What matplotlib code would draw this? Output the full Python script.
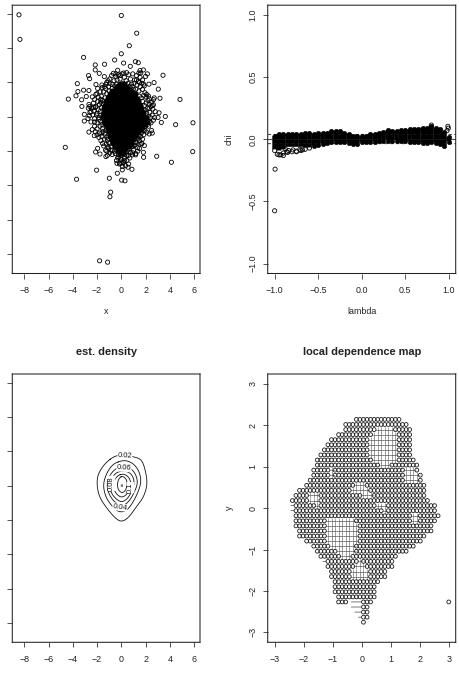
import matplotlib
matplotlib.use("Agg")
import matplotlib.pyplot as plt
import numpy as np

plt.rcParams['font.family'] = ['Liberation Sans', 'DejaVu Sans']
plt.rcParams['path.snap'] = False
W, H = 459, 674
INK = '#1a1a1a'

# ---- panel 1: scatter (x, y) ----
outer_x = [-8.44,-8.36,0.0,1.27,.66,0,-3.11,-.55,.19,1.16,1.40,.74,-2.15,-1.38,-2.15,-1.82,-2.70,-2.61,-1.40,-.66,-.30,.44,1.54,1.82,2.15,3.44,2.70,2.28,-3.63,-2.09,3.05,-3.11,-3.58,-2.67,-3.74,-4.37,-3.27,-2.89,-2.39,-2.01,-1.57,3.19,4.84,2.72,-3.25,-2.67,-2.72,-2.15,-3.05,-2.59,-2.75,-3.05,-2.64,3.11,3.63,3.03,3.30,4.48,5.91,5.89,4.13,2.92,1.84,1.82,1.90,1.68,1.18,.91,-4.62,-2.67,-2.23,-2.15,-1.68,-1.95,-2.12,-1.76,-1.27,-2.04,-3.69,-.99,-.33,.08,.88,.55,-.36,.17,.03,.30,-.88,-.94,-1.79,-1.13]
outer_y = [5.94,4.51,5.90,4.87,4.14,3.67,3.46,3.31,3.13,3.21,3.15,2.94,3.02,3.06,2.73,2.53,2.40,2.22,2.34,2.53,2.71,2.57,2.69,2.73,2.50,2.42,1.99,1.90,1.93,1.88,1.61,1.55,1.47,1.53,1.22,1.03,.99,1.18,1.16,1.35,1.70,1.08,1.01,1.10,.60,.72,.50,.54,.14,.25,-.10,-.25,.06,.23,.02,-.04,-.33,-.46,-.35,-2.03,-2.65,-2.30,-2.36,-2.07,-1.68,-1.57,-2.22,-2.22,-1.78,-.89,-1.10,-.87,-1.39,-1.84,-2.05,-2.17,-2.32,-3.11,-3.64,-3.58,-3.29,-3.09,-3.06,-2.94,-2.71,-2.65,-3.69,-3.73,-4.39,-4.66,-8.39,-8.47]
halo_x = [-1.2,-.95,-.8,-.6,-.45,-.25,-.1,.05,.25,.4,.6,.75,.95,1.1,1.25,1.4,1.55,1.75,1.85,2.0,1.3,1.05,.85,.55,.15,-.15,-.4,-.75,-1.05,-1.3,-1.45,-1.6,-1.75,-1.95,-2.1,-1.9,-1.65,1.55,1.75,1.95,2.05,1.85,2.3,2.5,2.65,2.45,2.6,2.3,2.05,2.15,2.8,2.35,2.55,2.1,2.4,2.65,2.75,2.45,2.25,2.5,2.55,2.3,2.1,1.95,1.85,1.6,1.75,1.5,1.3,1.55,1.35,1.15,1.0,.85,1.2,.75,.55,.3,.05,-.25,-.5,-.75,-.95,-1.15,-1.05,-1.3,-1.25,-1.05,-1.4,-1.2,-1.6,-1.5,-1.8,-2.0,-1.75,-2.2,-2.0,-2.4,-1.85,-2.2,-2.5,-2.35,-2.05,-2.5,-2.25,-1.9,-2.1,-1.8,-2.3,0,.2,.45,-.1,.35,.1,-.15,.6,-.4,.25,-.3]
halo_y = [2.0,2.2,2.4,2.1,2.35,2.45,2.2,2.5,2.3,2.1,2.45,2.2,2.5,2.15,2.4,2.05,2.3,2.15,1.9,2.35,1.85,1.95,1.9,1.95,1.95,1.85,1.9,1.9,1.75,1.65,1.45,1.85,1.45,1.65,1.3,1.15,1.2,1.75,1.6,1.4,1.15,1.25,1.05,.85,1.0,.6,.45,.75,.8,.5,.3,.25,.1,.2,-.05,-.2,-.05,-.35,-.55,-.8,-.95,-1.0,-.9,-.8,-1.05,-1.15,-1.3,-1.4,-1.35,-1.6,-1.8,-1.65,-1.95,-1.75,-2.15,-2.1,-1.95,-2.2,-2.25,-2.2,-2.15,-2.2,-2.1,-2.25,-1.85,-1.95,-1.6,-1.5,-1.3,-1.2,-1.15,-.85,-.95,-.7,-.55,-.55,-.35,-.75,-.15,-.1,-.3,.1,.1,.3,.35,.4,.6,.7,.8,-2.5,-2.65,-2.55,-2.7,-2.85,-2.9,-2.75,-2.75,-2.55,-2.4,-2.4]
rim_x = [-1.0,-1.2,-1.35,-1.55,-1.5,-1.65,-1.75,-1.7,-1.85,-1.7,-1.6,-1.55,-1.35,-1.25,-1.1,-1.15,-.95,-.85,-.75,-.55,-.35,-.2,1.0,1.2,1.45,1.5,1.65,1.75,1.9,1.95,2.05,2.2,2.3,2.15,2.0,1.9,1.8,1.65,1.45,1.4,1.2,1.05,.95,.7,.6,.4,.2,.05,-.75,-.55,-.35,-.15,.1,.3,.45,.7,.9,-1.7,-1.95,-2.2,-1.7,-2.0,-2.2,-2.3,-2.6,-2.45,-1.6,-1.85,-2.0,-1.45,-1.55,-1.2,-1.1,-.85,1.7,1.5,1.35,.95,.7,.45,-.05,.05,.25,2.65,2.55,2.3,2.2,2.1,2.25,1.9,1.7,1.5,1.25,1.45,1.6,.2,-.1,-.35,-.95,-1.1,-1.4,-1.25,-.45]
rim_y = [1.5,1.35,1.1,.95,.75,.55,.3,.1,-.05,-.25,-.45,-.7,-.95,-.8,-1.1,-1.35,-1.55,-1.75,-1.95,-2.0,-2.0,-2.35,1.6,1.6,1.5,1.2,1.1,.9,.65,.4,.05,-.1,-.3,-.45,-.55,-.6,-.8,-.95,-1.1,-1.25,-1.5,-1.65,-1.7,-1.85,-2.25,-2.05,-2.1,-2.05,1.65,1.8,1.75,1.7,1.8,1.75,1.8,1.75,1.75,1.0,.9,1.0,.85,.2,-.3,.55,.6,.5,-.95,-1.2,-1.05,-1.7,-1.55,-2.0,-1.75,-1.95,-1.55,-1.85,-2.0,-2.1,-2.4,-2.25,-2.4,-2.7,-2.55,.7,.65,.5,.95,1.3,1.2,1.8,1.95,2.0,2.15,2.55,2.55,2.55,2.4,2.15,1.95,2.1,1.75,1.9,2.5]
core_y = [1.9,1.7,1.5,1.3,1.1,.9,.7,.5,.3,.1,-.1,-.3,-.5,-.7,-.9,-1.1,-1.3,-1.5,-1.7,-1.9,-2.1]
core_x = [
 [-.1,.25],
 [-.4,-.1,.2,.5],
 [-.75,-.45,-.15,.15,.45,.8],
 [-.95,-.65,-.35,-.05,.25,.55,.85,1.1],
 [-1.1,-.8,-.5,-.2,.1,.4,.7,1.0,1.25],
 [-1.25,-.95,-.65,-.35,-.05,.25,.55,.85,1.15,1.4],
 [-1.35,-1.05,-.75,-.45,-.15,.15,.45,.75,1.05,1.35,1.55],
 [-1.4,-1.1,-.8,-.5,-.2,.1,.4,.7,1.0,1.3,1.6],
 [-1.45,-1.15,-.85,-.55,-.25,.05,.35,.65,.95,1.25,1.55,1.75],
 [-1.5,-1.2,-.9,-.6,-.3,.0,.3,.6,.9,1.2,1.5,1.8],
 [-1.5,-1.2,-.9,-.6,-.3,.0,.3,.6,.9,1.2,1.5,1.8,2.0],
 [-1.4,-1.1,-.8,-.5,-.2,.1,.4,.7,1.0,1.3,1.6,1.9,2.1],
 [-1.25,-.95,-.65,-.35,-.05,.25,.55,.85,1.15,1.45,1.75],
 [-1.1,-.8,-.5,-.2,.1,.4,.7,1.0,1.3,1.6],
 [-1.0,-.7,-.4,-.1,.2,.5,.8,1.1,1.4],
 [-.9,-.6,-.3,.0,.3,.6,.9,1.15],
 [-.75,-.45,-.15,.15,.45,.75,1.0],
 [-.65,-.35,-.05,.25,.55,.8],
 [-.5,-.2,.1,.4,.6],
 [-.3,.0,.3],
 [-.1,.15],
]

# ---- panel 2: chi plot ----
lam = [-1,-.95,-.9,-.85,-.8,-.75,-.7,-.65,-.6,-.55,-.5,-.45,-.4,-.35,-.3,-.25,-.2,-.15,-.1,-.05,0,.05,.1,.15,.2,.25,.3,.35,.4,.45,.5,.55,.6,.65,.7,.75,.8,.85,.9,.95,1]
chi_upper = [.03,.045,.04,.04,.045,.045,.045,.05,.05,.045,.05,.05,.055,.065,.07,.065,.05,.045,.03,.025,.025,.03,.04,.045,.05,.06,.075,.07,.07,.075,.075,.08,.08,.085,.095,.09,.105,.09,.085,.06,.02]
chi_lower = [-.09,-.125,-.13,-.105,-.1,-.1,-.09,-.08,-.07,-.055,-.045,-.035,-.03,-.025,-.02,-.02,-.02,-.03,-.04,-.035,-.025,-.02,-.02,-.02,-.015,-.01,-.01,-.01,-.01,-.015,-.015,-.02,-.02,-.025,-.03,-.03,-.025,-.03,-.04,-.055,-.02]
chi_core_low = [-.08,-.09,-.08,-.06,-.06,-.06,-.06,-.065,-.065,-.05,-.04,-.03,-.025,-.02,-.015,-.015,-.015,-.025,-.035,-.03,-.02,-.015,-.015,-.015,-.01,-.005,-.005,-.005,-.005,-.01,-.01,-.015,-.015,-.02,-.025,-.025,-.02,-.025,-.035,-.045,-.015]
extra_lam = [-.995,-1.0,.99,.995,.98,.8,-.93,-.88,-.84,-.79,-.75,-.71,-.68,-.9,-.86,-.97]
extra_chi = [-.24,-.575,.105,.09,.07,.115,-.125,-.075,-.09,-.085,-.095,-.08,-.085,-.11,-.1,-.12]
chi_dash = [.04,-.035]

# ---- panel 3: contour paths of the estimated density ----
lev02 = ([-.66,-1.35,-1.90,-2.03,-1.84,-1.21,-.52,0,.58,1.26,1.87,2.17,1.95,1.68,1.26,.3,-.1],
         [1.68,1.29,.71,.14,-.64,-1.31,-1.89,-2.12,-1.89,-1.22,-.64,.14,1.0,1.49,1.64,1.78,1.78])
lev04 = ([0,-.7,-1.2,-1.5,-1.35,-.95,-.4,0,.45,.9,1.35,1.65,1.5,1.05,.5],
         [1.45,1.25,.75,.1,-.55,-1.05,-1.45,-1.55,-1.45,-1.05,-.45,.2,.8,1.25,1.45])
lev06 = ([0,-.55,-1.0,-1.2,-1.05,-.7,-.3,.05,.45,.85,1.2,1.35,1.2,.8,.35],
         [1.1,.95,.55,.05,-.45,-.85,-1.1,-1.18,-1.05,-.7,-.2,.2,.65,1.0,1.1])
lev08 = ([.05,-.45,-.8,-.98,-.85,-.55,-.2,.1,.45,.75,1.0,1.07,.95,.6],
         [.85,.75,.4,.05,-.4,-.7,-.9,-.95,-.8,-.5,-.1,.2,.55,.8])
lev10 = ([.05,-.35,-.6,-.66,-.5,-.2,.08,.4,.65,.8,.7,.4],
         [.68,.55,.25,-.05,-.4,-.62,-.68,-.55,-.25,.05,.4,.62])
lev12 = ([.08,-.2,-.33,-.28,-.05,.2,.42,.5,.4],
         [.56,.42,.1,-.2,-.4,-.4,-.18,.1,.4])
contour_paths = [lev02, lev04, lev06, lev08, lev10, lev12]
peak_x, peak_y = [.05], [0.0]
clabel_text = ['0.02', '0.06', '0.04', '0.08', '0.1']
clabel_x = [.3, .22, -.11, -.8, .77]
clabel_y = [1.74, 1.02, -1.25, .13, -.12]
clabel_rot = [-3, -3, -8, 90, 90]

# ---- panel 4: local dependence map, grid cells (row, first col, last col) ----
grid_row = list(range(42, 6, -1))
grid_first = [23,20,20,18,16,15,14,13,12,12,11,11,10,9,7,6,5,6,6,6,6,6,7,7,9,11,12,13,15,15,16,16,17,17,17,18]
grid_last  = [35,37,38,38,38,38,38,38,39,40,40,41,41,42,42,42,43,45,45,46,45,44,44,42,41,39,37,34,33,33,31,31,29,28,28,28]
low_row = [6,6,5,4,3,2]
low_first = [18,25,25,25,25,25]
low_last = [20,27,26,26,26,25]
lone_cell = (49, 6)
hole_row = [40,39,38,37,36,35,34,33,32,31,30,32,31,29,28,27,27,26,25,25,24,23,22,22,21,20,19,18,17,16,15,14,13,12,11]
hole_first = [29,28,27,27,27,27,28,30,37,37,37,16,16,23,22,25,10,10,12,29,31,39,39,15,15,15,15,15,16,18,19,24,23,22,22]
hole_last  = [33,34,34,34,34,34,34,32,39,40,40,16,16,25,26,27,12,12,12,31,31,40,40,22,23,23,23,23,22,22,21,24,25,26,26]
dash_row = [6,5,4,3,25,24,14]
dash_first = [22,22,23,24,5,5,14]
dash_last = [24,24,24,24,5,5,14]
grid_vals = np.linspace(-3, 3, 50)

x_ticks = [-8,-6,-4,-2,0,2,4,6]
y_ticks = [-8,-6,-4,-2,0,2,4,6]
chi_ticks = [-1,-.5,0,.5,1]
chi_tick_labels = ['\u22121.0','\u22120.5','0.0','0.5','1.0']
map_ticks = [-3,-2,-1,0,1,2,3]
map_tick_labels = ['\u22123','\u22122','\u22121','0','1','2','3']
wide_tick_labels = ['\u22128','\u22126','\u22124','\u22122','0','2','4','6']

fig = plt.figure(figsize=(W/100, H/100), dpi=100)

def make_ax(l, t, r, b, xlim, ylim):
    ax = fig.add_axes([l/W, 1-b/H, (r-l)/W, (b-t)/H])
    ax.set_xlim(xlim); ax.set_ylim(ylim)
    for s in ax.spines.values():
        s.set_linewidth(.75); s.set_color('#222222')
    ax.tick_params(length=3.4, width=.55, color='#222222', labelcolor='#222222', labelsize=6.4, pad=5.5)
    ax.tick_params(axis='y', pad=4.2)
    return ax

def set_ticks(ax, xt, xl, yt, yl):
    ax.set_xticks(xt, xl)
    ax.set_yticks(yt, yl if yl else [''] * len(yt))
    if yl:
        for t in ax.get_yticklabels():
            t.set_rotation(90); t.set_va('center')

def rings(ax, x, y, ms=3.0, lw=.6, color='black', z=3):
    return ax.scatter(x, y, s=ms**2, facecolors='none', edgecolors=color, linewidths=lw, snap=False, zorder=z)

def discs(ax, x, y, ms=3.0, z=2.5):
    return ax.scatter(x, y, s=ms**2, facecolors='black', edgecolors='black', linewidths=.3, snap=False, zorder=z)

XL, YL = (-8.99, 6.49), (-9.13, 6.50)

# Panel 1
a1 = make_ax(12.3, 5.2, 200, 273.5, XL, YL)
set_ticks(a1, x_ticks, wide_tick_labels, y_ticks, None)
for yv, xs in zip(core_y, core_x):
    discs(a1, xs, [yv]*len(xs), ms=3.9)
rings(a1, rim_x, rim_y)
rings(a1, halo_x, halo_y)
rings(a1, outer_x, outer_y)
fig.text(106/W, 1-312/H, 'x', ha='center', va='center', fontsize=6.4, color='#222222')

# Panel 2
a2 = make_ax(267.7, 5.2, 455.7, 273.5, (-1.08, 1.08), (-1.08, 1.08))
set_ticks(a2, chi_ticks, chi_tick_labels, chi_ticks, chi_tick_labels)
a2.vlines(lam, chi_core_low, chi_upper, color='black', lw=3.4)
discs(a2, lam, chi_upper, ms=3.3)
lam_arr, low_arr = np.array(lam), np.array(chi_lower)
right_of_tail = lam_arr > -.6
discs(a2, lam_arr[right_of_tail], low_arr[right_of_tail], ms=3.3)
rings(a2, lam_arr[~right_of_tail], low_arr[~right_of_tail])
rings(a2, extra_lam, extra_chi)
a2.axhline(0, color=INK, lw=.6)
for d in chi_dash:
    a2.axhline(d, color=INK, lw=.6, ls=(0, (4, 3)))
fig.text(361.7/W, 1-312/H, 'lambda', ha='center', va='center', fontsize=6.4, color='#222222')
fig.text(229/W, 1-139/H, 'chi', ha='center', va='center', rotation=90, fontsize=6.4, color='#222222')

# Panel 3
def smooth(xs, ys, n=2):
    p = np.column_stack([xs, ys])
    for _ in range(n):
        q = np.roll(p, -1, axis=0)
        p = np.column_stack([.75*p + .25*q, .25*p + .75*q]).reshape(-1, 2)
    return np.vstack([p, p[:1]])

a3 = make_ax(12.3, 374, 200, 642.3, XL, YL)
set_ticks(a3, x_ticks, wide_tick_labels, y_ticks, None)
for xs, ys in contour_paths:
    p = smooth(xs, ys)
    a3.plot(p[:, 0], p[:, 1], color='#111111', lw=.6)
rings(a3, peak_x, peak_y, ms=1.2, lw=.4)
for s, x, y, r in zip(clabel_text, clabel_x, clabel_y, clabel_rot):
    a3.text(x, y, s, rotation=r, ha='center', va='center', fontsize=5.4, color='#111111',
            bbox=dict(fc='white', ec='none', pad=.2))
fig.text(106/W, 1-352/H, 'est. density', ha='center', va='center', fontsize=7.9, fontweight='bold', color='#222222')

# Panel 4
a4 = make_ax(267.7, 374, 455.7, 642.3, (-3.24, 3.24), (-3.24, 3.24))
set_ticks(a4, map_ticks, map_tick_labels, map_ticks, map_tick_labels)
holes = {(r, c) for r, f, e in zip(hole_row, hole_first, hole_last) for c in range(f, e+1)}
cells = [(c, r) for r, f, e in zip(grid_row + low_row, grid_first + low_first, grid_last + low_last)
         for c in range(f, e+1) if (r, c) not in holes]
cells.append(lone_cell)
rings(a4, grid_vals[[c for c, r in cells]], grid_vals[[r for c, r in cells]], ms=2.75, lw=.6, color='#1c1c1c')
a4.scatter(grid_vals[[c for r, c in holes]], grid_vals[[r for r, c in holes]], marker='+',
           s=4.2**2, linewidths=.4, color='#666666', snap=False)
for r, f, e in zip(dash_row, dash_first, dash_last):
    a4.hlines(grid_vals[r], grid_vals[f]-.06, grid_vals[e]+.06, color='#333333', lw=.45)
fig.text(361.7/W, 1-352/H, 'local dependence map', ha='center', va='center', fontsize=7.9, fontweight='bold', color='#222222')
fig.text(229/W, 1-508/H, 'y', ha='center', va='center', rotation=90, fontsize=6.4, color='#222222')

fig.savefig('out.png', dpi=100)
